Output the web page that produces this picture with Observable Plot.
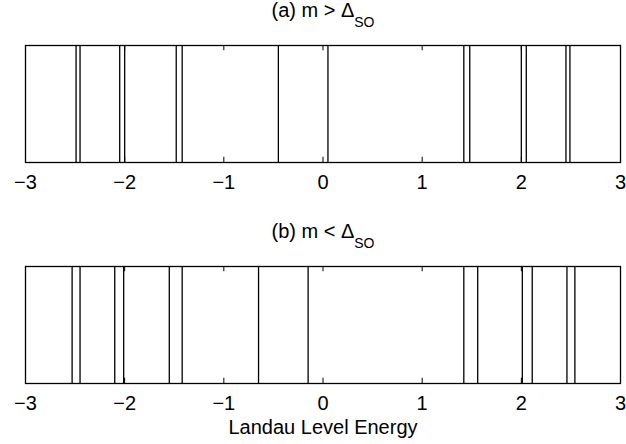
<!DOCTYPE html>
<html>
<head>
<meta charset="utf-8">
<script src="https://cdn.jsdelivr.net/npm/d3@7"></script>
<script src="https://cdn.jsdelivr.net/npm/@observablehq/plot@0.6"></script>
<style>
  html, body { margin: 0; padding: 0; background: #fff; }
  #chart { width: 626px; height: 444px; font-family: "Liberation Sans", Arial, sans-serif; }
  #chart svg { display: block; }
</style>
</head>
<body>
<div id="chart"></div>
<script>
// Landau level energies
const levelsA = [-2.49, -2.45, -2.05, -2.00, -1.48, -1.42, -0.45, 0.05, 1.42, 1.48, 2.00, 2.05, 2.45, 2.49];
const levelsB = [-2.53, -2.45, -2.10, -2.01, -1.55, -1.42, -0.65, -0.15, 1.42, 1.56, 2.01, 2.11, 2.46, 2.54];
const tickValues = [-3, -2, -1, 0, 1, 2, 3];
const tickLabels = ["−3", "−2", "−1", "0", "1", "2", "3"];
const titleA = ["(a) m > Δ", "SO"];
const titleB = ["(b) m < Δ", "SO"];
const xLabel = "Landau Level Energy";

function panel(levels, title, opts) {
  const tickLen = 0.045;
  const svg = Plot.plot({
    width: 626,
    height: opts.height,
    marginLeft: 25,
    marginRight: 6,
    marginTop: opts.marginTop,
    marginBottom: opts.marginBottom,
    style: { fontFamily: "Liberation Sans, Arial, sans-serif", fontSize: "20px", color: "#000", background: "#fff" },
    x: { domain: [-3, 3] },
    y: { domain: [0, 1], axis: null },
    marks: [
      Plot.ruleX(tickValues, { y1: 0, y2: tickLen, stroke: "#000", strokeWidth: 1 }),
      Plot.ruleX(tickValues, { y1: 1 - tickLen, y2: 1, stroke: "#000", strokeWidth: 1 }),
      Plot.ruleX(levels, { y1: 0, y2: 1, stroke: "#000", strokeWidth: 1.3 }),
      Plot.frame({ stroke: "#000", strokeWidth: 1.3 }),
      Plot.axisX(tickValues, {
        tickSize: 0,
        tickPadding: 12,
        fontSize: 20,
        tickFormat: (d) => tickLabels[tickValues.indexOf(d)],
        label: opts.label || null,
        labelAnchor: "center",
        labelArrow: "none",
        labelOffset: opts.labelOffset || 0
      })
    ]
  });
  const s = d3.select(svg);
  const t = s.append("text")
    .attr("x", 323)
    .attr("y", opts.titleY)
    .attr("text-anchor", "middle")
    .attr("font-size", 20)
    .attr("fill", "#000");
  t.append("tspan").text(title[0]);
  t.append("tspan").attr("dy", 10).attr("font-size", 14).text(title[1]);
  return svg;
}

const root = document.getElementById("chart");
root.appendChild(panel(levelsA, titleA, { height: 210, marginTop: 45, marginBottom: 48, titleY: 17 }));
root.appendChild(panel(levelsB, titleB, { height: 234, marginTop: 56, marginBottom: 61, titleY: 28, label: xLabel, labelOffset: 50 }));
</script>
</body>
</html>
